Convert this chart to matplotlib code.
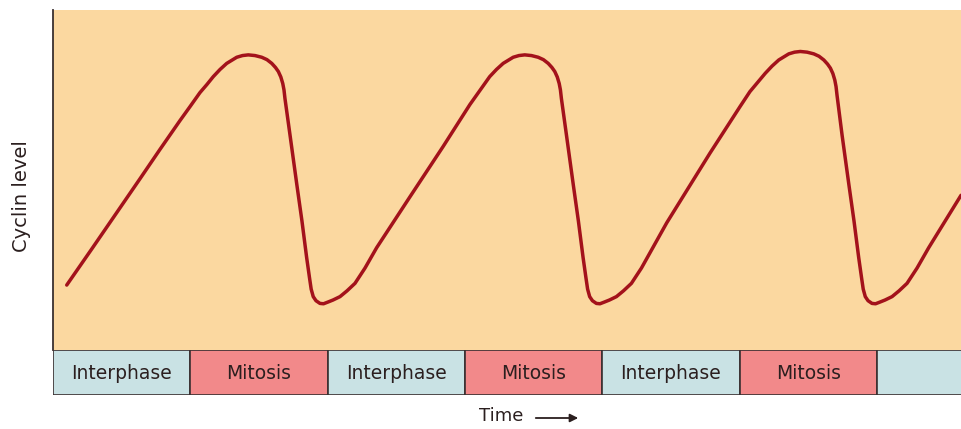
import matplotlib
matplotlib.use("Agg")
import matplotlib.pyplot as plt
from matplotlib.patches import FancyArrowPatch

# Cyclin level over time (time: 10 units per phase, level: 0-100 arbitrary)
time = [
    # first interphase rise, peak and fall during mitosis
    1.00, 2.82, 4.64, 6.34, 7.79, 9.25, 9.98, 10.70, 11.21, 11.67, 12.16,
    12.65, 13.38, 13.80, 14.22, 14.71, 15.20, 15.58, 15.93, 16.20, 16.41,
    16.59, 16.73, 16.82, 16.89, 17.26, 17.75, 18.13, 18.47, 18.68, 18.80,
    18.95, 19.15, 19.44, 19.70, 20.02, 20.39, 20.90, 21.41, 21.99,
    # second cycle
    22.72, 23.57, 26.00, 28.40, 30.36, 31.80, 32.29, 32.78, 33.51, 33.93,
    34.35, 34.84, 35.33, 35.71, 36.06, 36.33, 36.54, 36.72, 36.86, 36.95,
    37.02, 37.39, 37.88, 38.26, 38.60, 38.81, 38.93, 39.08, 39.28, 39.57,
    39.83, 40.15, 40.52, 41.03, 41.54, 42.12,
    # third cycle
    42.85, 44.69, 47.84, 50.03, 50.75, 51.87, 52.36, 52.85, 53.58, 54.00,
    54.42, 54.91, 55.40, 55.78, 56.13, 56.40, 56.61, 56.79, 56.93, 57.02,
    57.09, 57.46, 57.95, 58.33, 58.67, 58.88, 59.00, 59.15, 59.35, 59.64,
    59.90, 60.22, 60.59, 61.10, 61.61, 62.19, 62.92, 63.77, 66.12,
]
cyclin = [
    19.1, 29.7, 40.4, 50.4, 59.0, 67.5, 71.6, 75.7, 78.1, 80.4, 82.5,
    84.3, 86.1, 86.6, 86.8, 86.6, 86.1, 85.4, 84.3, 83.1, 81.9,
    80.3, 78.4, 76.5, 74.0, 63.2, 48.8, 37.9, 27.2, 21.2, 17.9,
    15.7, 14.5, 13.7, 13.6, 14.1, 14.7, 15.7, 17.4, 19.6,
    24.1, 30.1, 45.1, 59.8, 72.2, 80.4, 82.5, 84.3, 86.1, 86.6,
    86.8, 86.6, 86.1, 85.4, 84.3, 83.1, 81.9, 80.3, 78.4, 76.5,
    74.0, 63.2, 48.8, 37.9, 27.2, 21.2, 17.9, 15.7, 14.5, 13.7,
    13.6, 14.1, 14.7, 15.7, 17.4, 19.6,
    24.1, 37.4, 57.9, 71.6, 76.0, 81.4, 83.5, 85.3, 87.1, 87.6,
    87.8, 87.6, 87.1, 86.4, 85.3, 84.1, 82.9, 81.3, 79.4, 77.5,
    75.0, 63.2, 48.8, 37.9, 27.2, 21.2, 17.9, 15.7, 14.5, 13.7,
    13.6, 14.1, 14.7, 15.7, 17.4, 19.6, 24.1, 30.1, 45.5,
]

# Cell-cycle phases along the time axis
phases = ["Interphase", "Mitosis", "Interphase", "Mitosis",
          "Interphase", "Mitosis", "Interphase"]
phase_labels = ["Interphase", "Mitosis", "Interphase", "Mitosis",
                "Interphase", "Mitosis", ""]
phase_length = 10
t_end = 66.12

phase_colors = {"Interphase": "#c9e2e4", "Mitosis": "#f2898a"}
bg_color = "#fbd8a0"
line_color = "#a3121b"
text_color = "#2b1f1f"
edge_color = "#3a3030"

plt.rcParams["font.family"] = ["DejaVu Sans"]

fig = plt.figure(figsize=(9.61, 4.29), dpi=100)
fig.patch.set_facecolor("white")

W, H = 961.0, 429.0
left = 53 / W
ax = fig.add_axes([left, (H - 350) / H, 1 - left, 340 / H])
axb = fig.add_axes([left, (H - 395) / H, 1 - left, 45 / H], sharex=ax)

# Cyclin curve
ax.set_facecolor(bg_color)
ax.plot(time, cyclin, color=line_color, lw=2.5, solid_joinstyle="round",
        solid_capstyle="round")
ax.set_xlim(0, t_end)
ax.set_ylim(0, 100)
ax.set_xticks([])
ax.set_yticks([])
for s in ["top", "right", "bottom"]:
    ax.spines[s].set_visible(False)
ax.spines["left"].set_color(edge_color)
ax.spines["left"].set_linewidth(1.3)

# Phase bar
starts = [i * phase_length for i in range(len(phases))]
axb.bar(starts, [1] * len(phases), width=phase_length, align="edge",
        color=[phase_colors[p] for p in phases], edgecolor=edge_color,
        linewidth=1.2)
for s, lab in zip(starts, phase_labels):
    if lab:
        axb.text(s + phase_length / 2, 0.47, lab, ha="center", va="center",
                 fontsize=13.5, color=text_color)
axb.set_ylim(0, 1)
axb.set_yticks([])
axb.tick_params(axis="x", bottom=False, labelbottom=False)
for s in ["top", "right", "bottom", "left"]:
    axb.spines[s].set_visible(False)
axb.set_xlim(0, t_end)

# Axis captions
fig.text(22 / W, 1 - 196 / H, "Cyclin level", rotation=90, ha="center",
         va="center", fontsize=14, color=text_color)
fig.text(501 / W, 1 - 416 / H, "Time", ha="center", va="center",
         fontsize=13, color=text_color)
arrow = FancyArrowPatch((533 / W, 1 - 418 / H), (581 / W, 1 - 418 / H),
                        transform=fig.transFigure, arrowstyle="-|>",
                        mutation_scale=12, color=text_color, lw=1.3)
fig.patches.append(arrow)

fig.savefig("out.png", dpi=100, facecolor=fig.get_facecolor())
